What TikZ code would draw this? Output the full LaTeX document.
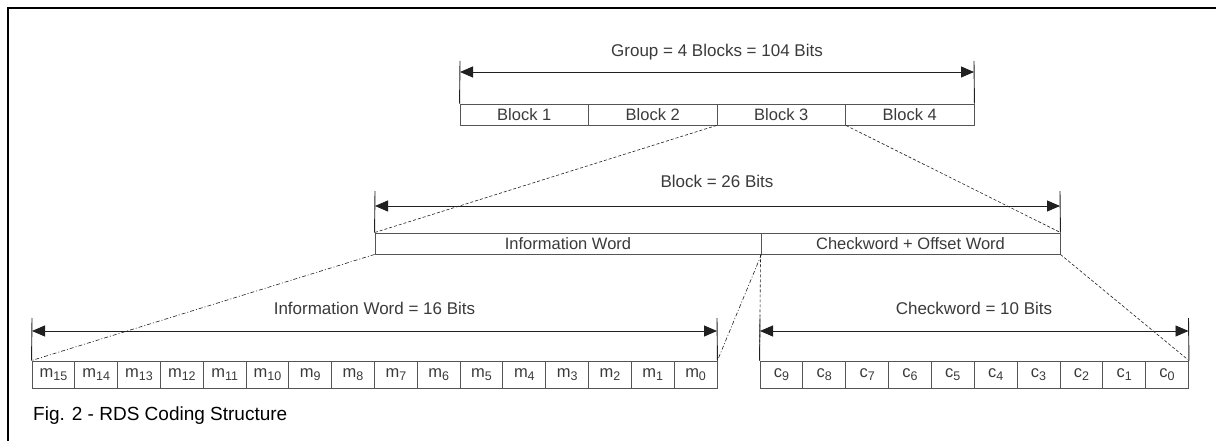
\documentclass[tikz,border=0pt]{standalone}
\usepackage{fontspec}
\setmainfont{Liberation Sans}
\usetikzlibrary{arrows.meta}
\definecolor{boxgray}{HTML}{555555}
\definecolor{linegray}{HTML}{202020}
\definecolor{txtgray}{HTML}{3A3A3A}
\newcommand{\bitlbl}[2]{{\fontsize{16.5}{16.5}\selectfont #1}\raisebox{-3.5pt}{\fontsize{12.5}{12.5}\selectfont #2}}
\begin{document}
\begin{tikzpicture}[x=1pt,y=-1pt,
  cell/.style={draw=boxgray, line width=0.9pt, minimum height=21pt, inner sep=0pt,
               font=\fontsize{16.5}{16.5}\selectfont, text=txtgray, anchor=center},
  bitcell/.style={cell, minimum height=27pt},
  dimline/.style={line width=0.9pt, draw=linegray,
               {Triangle[length=13pt,width=11pt]}-{Triangle[length=13pt,width=11pt]}},
  tickline/.style={line width=0.9pt, draw=linegray},
  lbl/.style={font=\fontsize{17}{17}\selectfont, text=txtgray, inner sep=0pt},
  zoomdash/.style={draw=linegray, line width=0.6pt, dash pattern=on 3pt off 2pt},
  zoomdashdot/.style={draw=linegray, line width=0.6pt, dash pattern=on 4pt off 2pt on 1pt off 2pt}
]
\useasboundingbox (0,0) rectangle (1216,441);
% frame
\coordinate (fbl) at (8,441);
\coordinate (ftl) at (8,8);
\coordinate (ftr) at (1216,8);
\draw[line width=2pt, draw=black] (fbl) -- (ftl) -- (ftr);

% ---- group row
\foreach \i in {1,...,4}{
  \node[cell, minimum width=128.5pt] (b\i) at ({460+128.5*(\i-0.5)},114.5) {Block \i};
}
\coordinate (gtl) at (460,61);
\coordinate (gtr) at (974,61);
\coordinate (gal) at (460,72);
\coordinate (gar) at (974,72);
\draw[tickline] (gtl) -- (b1.north west);
\draw[tickline] (gtr) -- (b4.north east);
\draw[dimline] (gal) -- (gar);
\node[lbl] (glbl) at (717,52) {Group = 4 Blocks = 104 Bits};

% ---- block row
\node[cell, minimum width=386pt] (iw) at (568,243.5) {Information Word};
\node[cell, minimum width=299pt] (cw) at (910.5,243.5) {Checkword + Offset Word};
\coordinate (btl) at (375,191);
\coordinate (btr) at (1060,191);
\coordinate (bal) at (375,206);
\coordinate (bar) at (1060,206);
\draw[tickline] (btl) -- (iw.north west);
\draw[tickline] (btr) -- (cw.north east);
\draw[dimline] (bal) -- (bar);
\node[lbl] (blbl) at (717,181) {Block = 26 Bits};

% zoom lines group -> block
\draw[zoomdash] (b3.south west) -- (iw.north west);
\draw[zoomdash] (b3.south east) -- (cw.north east);

% ---- bit rows
\foreach \i in {0,...,15}{
  \pgfmathtruncatemacro{\k}{15-\i}
  \node[bitcell, minimum width=42.8125pt] (m\k) at ({32+42.8125*(\i+0.5)},374.5) {\bitlbl{m}{\k}};
}
\foreach \i in {0,...,9}{
  \pgfmathtruncatemacro{\k}{9-\i}
  \node[bitcell, minimum width=42.85pt] (c\k) at ({760+42.85*(\i+0.5)},374.5) {\bitlbl{c}{\k}};
}
\coordinate (mtl) at (32,318);
\coordinate (mtr) at (717,318);
\coordinate (mal) at (32,331);
\coordinate (mar) at (717,331);
\draw[tickline] (mtl) -- (m15.north west);
\draw[tickline] (mtr) -- (m0.north east);
\draw[dimline] (mal) -- (mar);
\node[lbl] (mlbl) at (374.5,308) {Information Word = 16 Bits};

\coordinate (ctl) at (760,318);
\coordinate (ctr) at (1188.5,318);
\coordinate (cal) at (760,331);
\coordinate (car) at (1188.5,331);
\draw[tickline] (ctl) -- (c9.north west);
\draw[tickline] (ctr) -- (c0.north east);
\draw[dimline] (cal) -- (car);
\node[lbl] (clbl) at (974,308) {Checkword = 10 Bits};

% zoom lines block -> bits
\draw[zoomdashdot] (iw.south west) -- (m15.north west);
\draw[zoomdashdot] (iw.south east) -- (m0.north east);
\draw[zoomdash] (cw.south west) -- (c9.north west);
\draw[zoomdash] (cw.south east) -- (c0.north east);

% caption
\node[anchor=west, inner sep=0pt, font=\fontsize{19}{19}\selectfont, text=black] (cap) at (33,416) {Fig. 2 - RDS Coding Structure};
\end{tikzpicture}
\end{document}
